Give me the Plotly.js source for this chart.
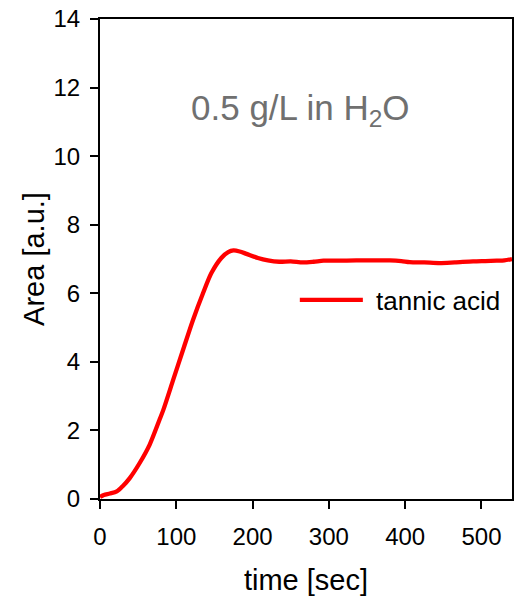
<!DOCTYPE html>
<html>
<head>
<meta charset="utf-8">
<script src="https://cdn.plot.ly/plotly-3.0.1.min.js"></script>
<style>
  html, body { margin: 0; padding: 0; background: #ffffff; }
  #chart { width: 514px; height: 600px; }
</style>
</head>
<body>
<div id="chart"></div>
<script>
// Adsorbed area of tannic acid (0.5 g/L in water) over time
const timeSec = [0, 5, 13, 22, 30, 39, 52, 65, 78, 83, 96, 109, 122, 135, 146, 159, 168, 175, 183, 192, 207, 220, 235, 250, 266, 280, 293, 310, 336, 360, 380, 395, 406, 425, 445, 465, 489, 505, 520, 530, 540];
const areaAU = [0.06, 0.12, 0.16, 0.22, 0.38, 0.61, 1.05, 1.58, 2.31, 2.60, 3.48, 4.36, 5.23, 6.00, 6.59, 7.03, 7.20, 7.25, 7.22, 7.15, 7.03, 6.96, 6.92, 6.93, 6.90, 6.92, 6.95, 6.95, 6.96, 6.96, 6.96, 6.94, 6.91, 6.90, 6.88, 6.90, 6.93, 6.94, 6.95, 6.96, 7.00];
const xTicks = [0, 100, 200, 300, 400, 500];
const yTicks = [0, 2, 4, 6, 8, 10, 12, 14];
const seriesName = 'tannic acid';

const FONT = 'Arial, "Liberation Sans", sans-serif';
const lineColor = '#ff0000';

const trace = {
  x: timeSec,
  y: areaAU,
  type: 'scatter',
  mode: 'lines',
  name: seriesName,
  line: { color: lineColor, width: 4.3, shape: 'spline', smoothing: 0.8 },
  showlegend: false,
  hoverinfo: 'skip'
};

const axisCommon = {
  showline: true,
  linecolor: '#000000',
  linewidth: 2,
  mirror: true,
  ticks: 'outside',
  ticklen: 8,
  tickwidth: 2,
  tickcolor: '#000000',
  showgrid: false,
  zeroline: false,
  tickfont: { family: FONT, size: 24, color: '#000000' }
};

const layout = {
  width: 514,
  height: 600,
  margin: { l: 100, r: 2, t: 19, b: 101 },
  paper_bgcolor: '#ffffff',
  plot_bgcolor: '#ffffff',
  font: { family: FONT, color: '#000000' },
  xaxis: Object.assign({}, axisCommon, {
    range: [0, 540],
    tickvals: xTicks,
    ticktext: xTicks.map(String),
    ticklabelstandoff: 7,
    title: { text: 'time [sec]', font: { family: FONT, size: 29, color: '#000000' }, standoff: 21 }
  }),
  yaxis: Object.assign({}, axisCommon, {
    range: [0, 14],
    tickvals: yTicks,
    ticktext: yTicks.map(String),
    ticklabelstandoff: 5,
    title: { text: 'Area [a.u.]', font: { family: FONT, size: 29, color: '#000000' }, standoff: 0 }
  }),
  shapes: [
    // legend sample line
    { type: 'line', xref: 'paper', yref: 'paper', x0: 0.485, x1: 0.638, y0: 0.415, y1: 0.415,
      line: { color: lineColor, width: 4.3 } }
  ],
  annotations: [
    { xref: 'paper', yref: 'paper', x: 0.665, y: 0.413, xanchor: 'left', yanchor: 'middle',
      text: seriesName, showarrow: false, font: { family: FONT, size: 26, color: '#000000' } },
    { xref: 'paper', yref: 'paper', x: 0.487, y: 0.81, xanchor: 'center', yanchor: 'middle',
      text: '0.5 g/L in H<sub>2</sub>O', showarrow: false, font: { family: FONT, size: 35, color: '#707070' } }
  ]
};

Plotly.newPlot('chart', [trace], layout, { displayModeBar: false, staticPlot: true });
</script>
</body>
</html>
